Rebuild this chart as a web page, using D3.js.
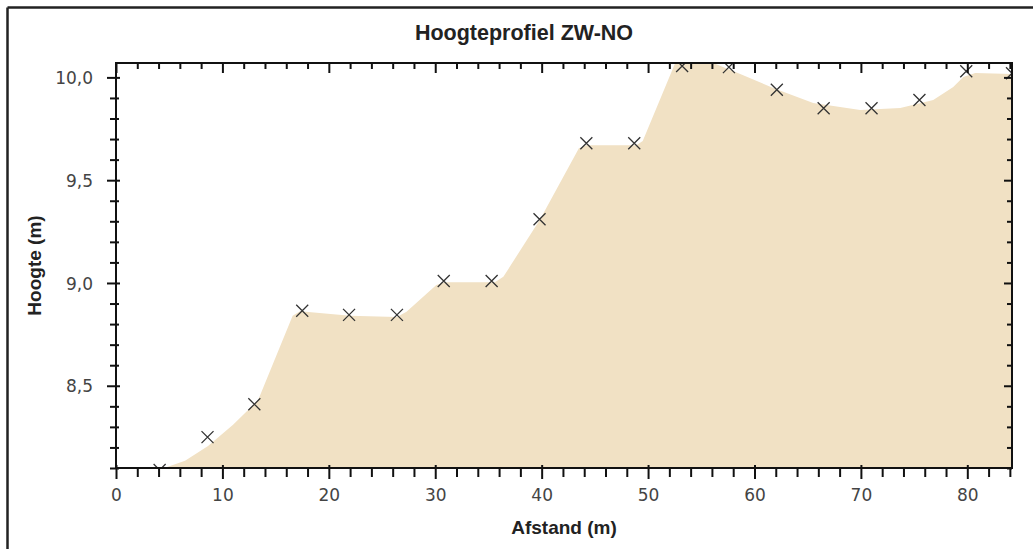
<!DOCTYPE html>
<html>
<head>
<meta charset="utf-8">
<script src="https://cdn.jsdelivr.net/npm/d3@7"></script>
<style>
  html, body { margin: 0; padding: 0; background: #fff; }
  svg { display: block; }
</style>
</head>
<body>
<svg id="chart" width="1033" height="549"></svg>
<script>
// ---- Data ----
const title = "Hoogteprofiel ZW-NO";
const xTitle = "Afstand (m)";
const yTitle = "Hoogte (m)";

// measured points (markers)
const pointX = [4.1, 8.6, 13.0, 17.5, 21.9, 26.4, 30.8, 35.3, 39.8, 44.2, 48.7, 53.2, 57.6, 62.1, 66.5, 71.0, 75.5, 79.9, 84.2];
const pointY = [8.09, 8.25, 8.41, 8.865, 8.845, 8.845, 9.01, 9.01, 9.31, 9.68, 9.68, 10.055, 10.05, 9.94, 9.85, 9.85, 9.89, 10.03, 10.02];

// outline of the filled terrain surface
const surfaceX = [4.42, 6.49, 8.65, 11.0, 13.35, 16.6, 17.3, 22.0, 26.4, 27.3, 30.1, 30.9, 35.6, 36.4, 39.86, 43.5, 44.2, 48.9, 49.5, 52.55, 56.12, 58.66, 61.76, 65.52, 69.94, 73.7, 76.8, 78.68, 79.62, 80.75, 84.23];
const surfaceY = [8.098, 8.135, 8.207, 8.31, 8.43, 8.84, 8.862, 8.84, 8.834, 8.86, 8.99, 9.004, 9.004, 9.03, 9.31, 9.655, 9.67, 9.67, 9.69, 10.07, 10.07, 10.017, 9.948, 9.875, 9.841, 9.851, 9.89, 9.953, 10.002, 10.021, 10.017];

const xDomain = [0, 84.2];
const yDomain = [8.1, 10.07];
const xMajorTicks = [0, 10, 20, 30, 40, 50, 60, 70, 80];
const xMinorTicks = d3.range(0, 85, 2);
const yMajorTicks = [8.5, 9.0, 9.5, 10.0];
const yMinorTicks = d3.range(81, 101).map(d => d / 10);

// ---- Layout ----
const svg = d3.select("#chart");
const plot = { left: 116, right: 1012, top: 63, bottom: 468 };

const x = d3.scaleLinear().domain(xDomain).range([plot.left, plot.right]);
const y = d3.scaleLinear().domain(yDomain).range([plot.bottom, plot.top]);

const nl = d3.formatLocale({ decimal: ",", thousands: ".", grouping: [3], currency: ["€", ""] });
const fmtY = nl.format(".1f");

// outer frame
svg.append("line").attr("x1", 7.5).attr("y1", 7.5).attr("x2", 1033).attr("y2", 7.5)
  .attr("stroke", "#222").attr("stroke-width", 2.5);
svg.append("line").attr("x1", 7.5).attr("y1", 7.5).attr("x2", 7.5).attr("y2", 549)
  .attr("stroke", "#222").attr("stroke-width", 2.5);

// clip
svg.append("defs").append("clipPath").attr("id", "plotclip")
  .append("rect")
  .attr("x", plot.left).attr("y", plot.top)
  .attr("width", plot.right - plot.left).attr("height", plot.bottom - plot.top);

const surface = surfaceX.map((d, i) => ({ x: d, y: surfaceY[i] }));
const points = pointX.map((d, i) => ({ x: d, y: pointY[i] }));

const area = d3.area()
  .x(d => x(d.x))
  .y0(y(yDomain[0]))
  .y1(d => y(d.y))
  .curve(d3.curveLinear);

const g = svg.append("g").attr("clip-path", "url(#plotclip)");
g.append("path").datum(surface).attr("d", area).attr("fill", "#f1e1c4");

// markers
const m = 6;
g.selectAll("path.mark").data(points).enter().append("path")
  .attr("class", "mark")
  .attr("d", d => {
    const cx = x(d.x), cy = y(d.y);
    return `M${cx - m},${cy - m}L${cx + m},${cy + m}M${cx - m},${cy + m}L${cx + m},${cy - m}`;
  })
  .attr("stroke", "#333").attr("stroke-width", 1.3).attr("fill", "none");

// ---- Axes ----
const isMajX = v => Math.abs(v % 10) < 1e-6;
const isMajY = v => Math.abs(v * 2 - Math.round(v * 2)) < 1e-6;

// bottom
const gb = svg.append("g").attr("transform", `translate(0,${plot.bottom})`)
  .call(d3.axisBottom(x).tickValues(xMinorTicks).tickFormat(d => isMajX(d) ? d : ""));
gb.select(".domain").remove();
gb.selectAll(".tick line")
  .attr("y1", d => isMajX(d) ? -3 : -1)
  .attr("y2", d => isMajX(d) ? 11 : 9)
  .attr("stroke", "#111").attr("stroke-width", 2);
gb.selectAll(".tick text")
  .attr("y", 21).attr("dy", "0.71em")
  .attr("font-family", "'DejaVu Sans', Verdana, sans-serif")
  .attr("font-size", 17).attr("fill", "#444");

// left
const gl = svg.append("g").attr("transform", `translate(${plot.left},0)`)
  .call(d3.axisLeft(y).tickValues(yMinorTicks).tickFormat(d => isMajY(d) ? fmtY(d) : ""));
gl.select(".domain").remove();
gl.selectAll(".tick line")
  .attr("x1", d => isMajY(d) ? 4 : 3)
  .attr("x2", d => isMajY(d) ? -9 : -6)
  .attr("stroke", "#111").attr("stroke-width", 2);
gl.selectAll(".tick text")
  .attr("x", -23).attr("dy", "0.36em")
  .attr("font-family", "'DejaVu Sans', Verdana, sans-serif")
  .attr("font-size", 17).attr("fill", "#444");

// top
const gt = svg.append("g").attr("transform", `translate(0,${plot.top})`)
  .call(d3.axisTop(x).tickValues(xMinorTicks).tickFormat(""));
gt.select(".domain").remove();
gt.selectAll(".tick line")
  .attr("y1", 0).attr("y2", d => isMajX(d) ? 10 : 6)
  .attr("stroke", "#111").attr("stroke-width", 2);

// right
const gr = svg.append("g").attr("transform", `translate(${plot.right},0)`)
  .call(d3.axisRight(y).tickValues(yMinorTicks).tickFormat(""));
gr.select(".domain").remove();
gr.selectAll(".tick line")
  .attr("x1", 0).attr("x2", d => isMajY(d) ? -8 : -5)
  .attr("stroke", "#111").attr("stroke-width", 2);

// frame lines of the plot
svg.append("rect")
  .attr("x", plot.left).attr("y", plot.top)
  .attr("width", plot.right - plot.left).attr("height", plot.bottom - plot.top)
  .attr("fill", "none").attr("stroke", "#111").attr("stroke-width", 2);

// ---- Titles ----
svg.append("text")
  .attr("x", 524).attr("y", 40)
  .attr("text-anchor", "middle")
  .attr("font-family", "'Liberation Sans', Arial, sans-serif")
  .attr("font-weight", "bold").attr("font-size", 21.5).attr("fill", "#222")
  .text(title);

svg.append("text")
  .attr("x", (plot.left + plot.right) / 2).attr("y", 534)
  .attr("text-anchor", "middle")
  .attr("font-family", "'Liberation Sans', Arial, sans-serif")
  .attr("font-weight", "bold").attr("font-size", 19).attr("fill", "#222")
  .text(xTitle);

svg.append("text")
  .attr("transform", `translate(41,${(plot.top + plot.bottom) / 2}) rotate(-90)`)
  .attr("text-anchor", "middle")
  .attr("font-family", "'Liberation Sans', Arial, sans-serif")
  .attr("font-weight", "bold").attr("font-size", 19).attr("fill", "#222")
  .text(yTitle);
</script>
</body>
</html>
